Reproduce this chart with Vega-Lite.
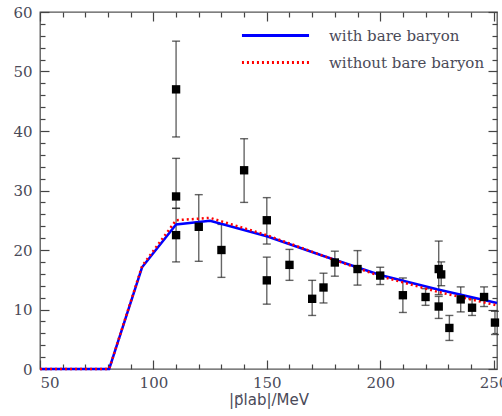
{
  "$schema": "https://vega.github.io/schema/vega-lite/v6.json",
  "width": 457,
  "height": 357,
  "autosize": "none",
  "padding": {"left": 40, "top": 12, "right": 5, "bottom": 47},
  "background": "white",
  "config": {
    "view": {"stroke": "#555", "strokeWidth": 1.3},
    "font": "DejaVu Serif",
    "axis": {"grid": false, "domain": false, "labelFont": "DejaVu Serif", "titleFont": "DejaVu Serif", "labelColor": "#4a4a58", "titleColor": "#4a4a58", "tickColor": "#444", "tickWidth": 1.2, "labelFontSize": 15, "titleFontSize": 15, "titleFontWeight": "normal"},
    "legend": {"title": null, "orient": "none", "symbolType": "stroke", "symbolSize": 4500, "symbolStrokeWidth": 3, "labelFont": "DejaVu Serif", "labelFontSize": 15, "labelColor": "#4a4a58", "labelOffset": 18}
  },
  "datasets": {
    "pts": [
      {"x": 110, "y": 47, "lo": 39, "hi": 55.1},
      {"x": 110, "y": 29, "lo": 27, "hi": 35.4},
      {"x": 110, "y": 22.5, "lo": 18, "hi": 27},
      {"x": 120, "y": 23.9, "lo": 18.1, "hi": 29.3},
      {"x": 130, "y": 20, "lo": 15.4, "hi": 24.3},
      {"x": 140, "y": 33.4, "lo": 28, "hi": 38.7},
      {"x": 150, "y": 25, "lo": 21, "hi": 28.8},
      {"x": 150, "y": 14.9, "lo": 10.9, "hi": 18.8},
      {"x": 160, "y": 17.5, "lo": 14.9, "hi": 20.1},
      {"x": 170, "y": 11.8, "lo": 9, "hi": 14.9},
      {"x": 175, "y": 13.7, "lo": 11.1, "hi": 16.1},
      {"x": 180, "y": 17.9, "lo": 15.6, "hi": 19.8},
      {"x": 190, "y": 16.8, "lo": 14.1, "hi": 19.9},
      {"x": 200, "y": 15.7, "lo": 14.2, "hi": 17.1},
      {"x": 210, "y": 12.4, "lo": 9.5, "hi": 15.3},
      {"x": 220, "y": 12.1, "lo": 10.7, "hi": 13.5},
      {"x": 225.8, "y": 16.8, "lo": 12.5, "hi": 21.5},
      {"x": 226.9, "y": 15.9, "lo": 14, "hi": 18},
      {"x": 225.8, "y": 10.5, "lo": 8.5, "hi": 12.2},
      {"x": 230.5, "y": 6.9, "lo": 4.8, "hi": 9},
      {"x": 235.5, "y": 11.7, "lo": 9.6, "hi": 13.8},
      {"x": 240.5, "y": 10.3, "lo": 9, "hi": 11.8},
      {"x": 245.8, "y": 12.1, "lo": 10.5, "hi": 13.8},
      {"x": 250.6, "y": 7.8, "lo": 5.8, "hi": 9.7}
    ],
    "curves": [
      {"s": "with bare baryon", "x": 50, "y": 0},
      {"s": "with bare baryon", "x": 80.5, "y": 0},
      {"s": "with bare baryon", "x": 95, "y": 17.1},
      {"s": "with bare baryon", "x": 110, "y": 24.3},
      {"s": "with bare baryon", "x": 125, "y": 24.9},
      {"s": "with bare baryon", "x": 150, "y": 22.3},
      {"s": "with bare baryon", "x": 175, "y": 19.0},
      {"s": "with bare baryon", "x": 200, "y": 15.8},
      {"s": "with bare baryon", "x": 225, "y": 13.4},
      {"s": "with bare baryon", "x": 251.5, "y": 11.1},
      {"s": "without bare baryon", "x": 50, "y": 0},
      {"s": "without bare baryon", "x": 80.5, "y": 0},
      {"s": "without bare baryon", "x": 95, "y": 17.3},
      {"s": "without bare baryon", "x": 110, "y": 25.0},
      {"s": "without bare baryon", "x": 125, "y": 25.4},
      {"s": "without bare baryon", "x": 150, "y": 22.5},
      {"s": "without bare baryon", "x": 175, "y": 19.0},
      {"s": "without bare baryon", "x": 200, "y": 15.6},
      {"s": "without bare baryon", "x": 225, "y": 13.0},
      {"s": "without bare baryon", "x": 251.5, "y": 10.7}
    ]
  },
  "resolve": {
    "axis": {"x": "independent", "y": "independent"},
    "scale": {"color": "independent", "strokeDash": "independent"},
    "legend": {"color": "independent", "strokeDash": "independent"}
  },
  "layer": [
    {
      "data": {"name": "pts"},
      "mark": {"type": "rule", "color": "#666", "strokeWidth": 1.4},
      "encoding": {
        "x": {"field": "x", "type": "quantitative", "scale": {"domain": [50, 251.5], "nice": false, "zero": false},
          "axis": {"orient": "bottom", "values": [50, 100, 150, 200, 250], "offset": -9, "tickSize": 9,
            "labelPadding": 6, "title": "|p⃗lab|/MeV", "titleFont": "DejaVu Sans", "titlePadding": 2}},
        "y": {"field": "lo", "type": "quantitative", "scale": {"domain": [0, 60], "nice": false},
          "axis": {"orient": "left", "values": [0, 10, 20, 30, 40, 50, 60], "offset": -9, "tickSize": 9,
            "labelPadding": 8, "title": null}},
        "y2": {"field": "hi"}
      }
    },
    {
      "data": {"name": "pts"},
      "mark": {"type": "tick", "orient": "horizontal", "color": "#222", "size": 8, "thickness": 1.4},
      "encoding": {
        "x": {"field": "x", "type": "quantitative",
          "axis": {"orient": "top", "values": [50, 100, 150, 200, 250], "offset": -9, "tickSize": 9, "labels": false, "title": null}},
        "y": {"field": "lo", "type": "quantitative",
          "axis": {"orient": "right", "values": [0, 10, 20, 30, 40, 50, 60], "offset": -9, "tickSize": 9, "labels": false, "title": null}}
      }
    },
    {
      "data": {"name": "pts"},
      "mark": {"type": "tick", "orient": "horizontal", "color": "#222", "size": 8, "thickness": 1.4},
      "encoding": {
        "x": {"field": "x", "type": "quantitative",
          "axis": {"orient": "bottom", "values": [60, 70, 80, 90, 110, 120, 130, 140, 160, 170, 180, 190, 210, 220, 230, 240], "offset": -5, "tickSize": 5, "labels": false, "title": null}},
        "y": {"field": "hi", "type": "quantitative",
          "axis": {"orient": "left", "values": [2, 4, 6, 8, 12, 14, 16, 18, 22, 24, 26, 28, 32, 34, 36, 38, 42, 44, 46, 48, 52, 54, 56, 58], "offset": -5, "tickSize": 5, "labels": false, "title": null}}
      }
    },
    {
      "data": {"name": "curves"},
      "transform": [{"filter": "datum.s === 'with bare baryon'"}],
      "mark": {"type": "line", "strokeWidth": 2.5},
      "encoding": {
        "x": {"field": "x", "type": "quantitative",
          "axis": {"orient": "top", "values": [60, 70, 80, 90, 110, 120, 130, 140, 160, 170, 180, 190, 210, 220, 230, 240], "offset": -5, "tickSize": 5, "labels": false, "title": null}},
        "y": {"field": "y", "type": "quantitative",
          "axis": {"orient": "right", "values": [2, 4, 6, 8, 12, 14, 16, 18, 22, 24, 26, 28, 32, 34, 36, 38, 42, 44, 46, 48, 52, 54, 56, 58], "offset": -5, "tickSize": 5, "labels": false, "title": null}},
        "color": {"field": "s", "type": "nominal",
          "scale": {"domain": ["with bare baryon"], "range": ["#0000ff"]},
          "legend": {"legendX": 200, "legendY": -12}},
        "order": {"field": "x", "type": "quantitative"}
      }
    },
    {
      "data": {"name": "curves"},
      "transform": [{"filter": "datum.s === 'without bare baryon'"}],
      "mark": {"type": "line", "strokeWidth": 2.5},
      "encoding": {
        "x": {"field": "x", "type": "quantitative", "axis": null},
        "y": {"field": "y", "type": "quantitative", "axis": null},
        "color": {"field": "s", "type": "nominal",
          "scale": {"domain": ["without bare baryon"], "range": ["#ff0000"]},
          "legend": {"legendX": 200, "legendY": 15}},
        "strokeDash": {"field": "s", "type": "nominal",
          "scale": {"domain": ["without bare baryon"], "range": [[2, 3]]},
          "legend": {"legendX": 200, "legendY": 15}},
        "order": {"field": "x", "type": "quantitative"}
      }
    },
    {
      "data": {"name": "pts"},
      "mark": {"type": "point", "shape": "square", "filled": true, "color": "#000", "size": 70, "opacity": 1},
      "encoding": {
        "x": {"field": "x", "type": "quantitative", "axis": null},
        "y": {"field": "y", "type": "quantitative", "axis": null}
      }
    }
  ]
}
